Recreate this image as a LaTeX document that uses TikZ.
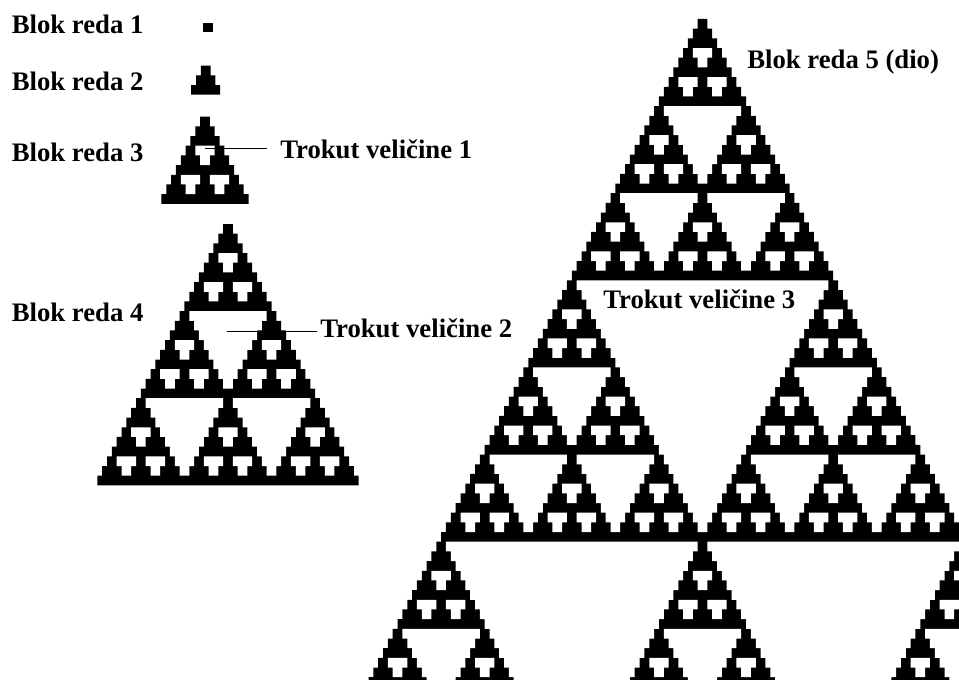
\documentclass[tikz,border=0pt]{standalone}
\usepackage{fontspec}
\setmainfont{Liberation Serif}

\newcommand\cs{9.68}

% crna stepenasta piramida: #1 redova, vrh u (#2,#3)
\newcommand\stepenice[3]{%
    \fill (#2-\cs/2,#3) -- ++(\cs,0) -- ++(0,\cs)
        \foreach \rr in {2,...,#1} { -- ++(\cs/2,0) -- ++(0,\cs) }
        -- ++(-#1*\cs,0)
        \foreach \rr in {2,...,#1} { -- ++(0,-\cs) -- ++(\cs/2,0) }
        -- cycle;}

% bijela obrnuta rupa: #1 redova, sredina gornjeg ruba u (#2,#3)
\newcommand\rupa[3]{%
    \fill[white] (#2-#1*\cs/2,#3) -- ++(#1*\cs,0) -- ++(0,\cs)
        \foreach \rr in {2,...,#1} { -- ++(-\cs/2,0) -- ++(0,\cs) }
        -- ++(-\cs,0)
        \foreach \rr in {2,...,#1} { -- ++(0,-\cs) -- ++(-\cs/2,0) }
        -- cycle;}

\newcommand\rupe[3]{%
    \ifnum#1>2\relax
        \pgfmathtruncatemacro\gm{3^(#1-2)}%
        \pgfmathtruncatemacro\gk{\gm-1}%
        \rupa{\gk}{#2}{#3+\gm*\cs}%
        \rupa{\gk}{#2-\gm*\cs/2}{#3+2*\gm*\cs}%
        \rupa{\gk}{#2+\gm*\cs/2}{#3+2*\gm*\cs}%
        \foreach \ox/\oy in {0/0,-0.5/1,0.5/1,-1/2,0/2,1/2}{%
            \pgfmathsetmacro\nx{#2+\ox*\gm*\cs}%
            \pgfmathsetmacro\ny{#3+\oy*\gm*\cs}%
            \edef\rupenext{\noexpand\rupe{\the\numexpr#1-1\relax}{\nx}{\ny}}%
            \rupenext}%
    \fi}

\newcommand\blok[3]{%
    \pgfmathtruncatemacro\bn{3^(#1-1)}%
    \stepenice{\bn}{#2}{#3}%
    \rupe{#1}{#2}{#3}}

\tikzset{
    oznaka/.style={font=\bfseries\fontsize{19}{22}\selectfont, anchor=base west, inner sep=0pt},
    vodilica/.style={line width=0.3mm}
}

\begin{document}
\begin{tikzpicture}[x=0.25mm, y=-0.25mm]
    \path[use as bounding box] (0,0) rectangle (959,679);
    \clip (0,0) rectangle (959,679);

    \fill (208-\cs/2,22.7) rectangle ++(\cs,\cs);
    \blok{2}{205.7}{65.7}
    \blok{3}{205}{116.7}
    \blok{4}{228}{224}
    \blok{5}{702.5}{19}

    \node[oznaka] (r1) at (11.5,34) {Blok reda 1};
    \node[oznaka] (r2) at (11.5,90) {Blok reda 2};
    \node[oznaka] (r3) at (11.5,161) {Blok reda 3};
    \node[oznaka] (r4) at (11.5,321) {Blok reda 4};
    \node[oznaka] (r5) at (747,68) {Blok reda 5 (dio)};

    \node[oznaka] (t1) at (280,158) {Trokut veličine 1};
    \node[oznaka] (t2) at (320,337) {Trokut veličine 2};
    \node[oznaka] (t3) at (603,308) {Trokut veličine 3};

    \coordinate (h1) at (205,148.5);
    \coordinate (h2) at (227,331.5);
    \draw[vodilica, shorten >=3.2mm] (h1) -- (h1 -| t1.west);
    \draw[vodilica, shorten >=0.8mm] (h2) -- (h2 -| t2.west);

\end{tikzpicture}
\end{document}
